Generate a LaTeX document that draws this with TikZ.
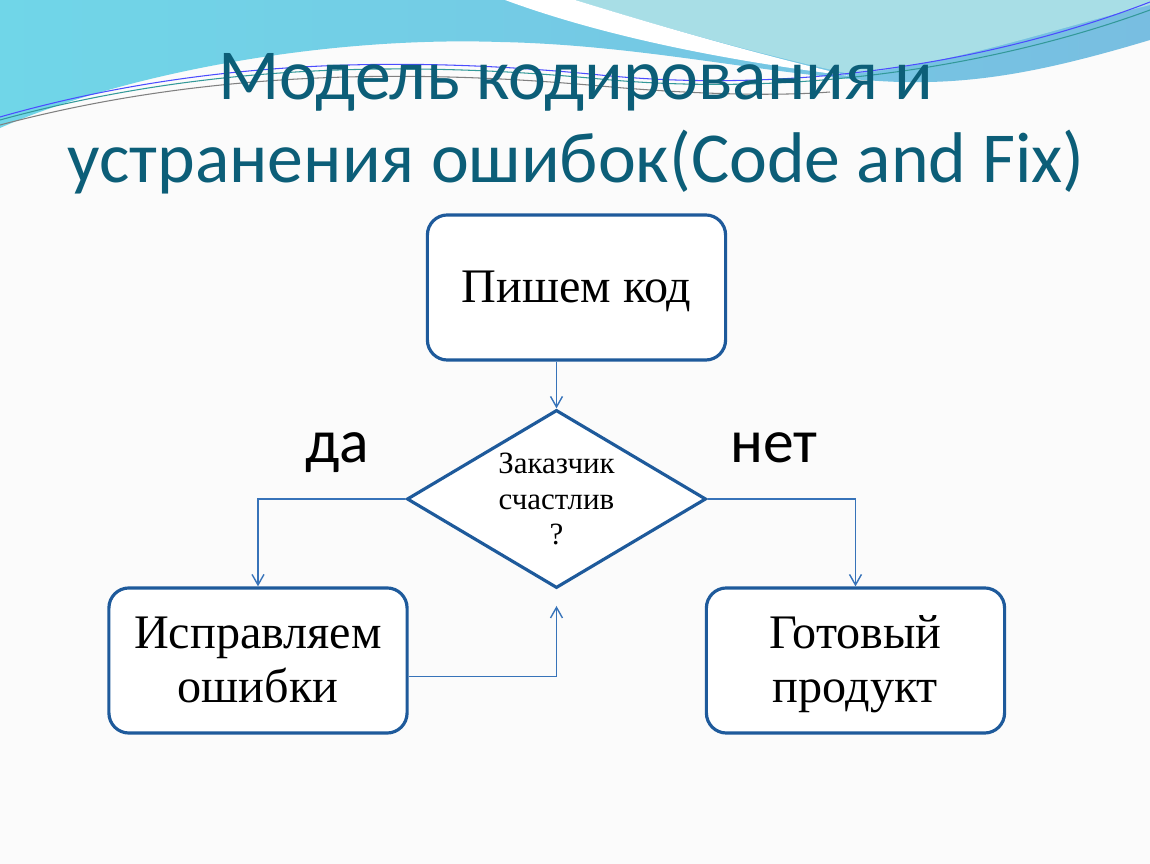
\documentclass[tikz,border=0pt]{standalone}
\usepackage{fontspec}
\setmainfont{Liberation Serif}
\newfontfamily\calibri{Carlito}
\usetikzlibrary{shapes.geometric, arrows.meta}
\definecolor{titleblue}{RGB}{12,94,120}
\definecolor{boxblue}{RGB}{30,90,155}
\definecolor{lineblue}{RGB}{55,115,185}
\definecolor{skyleft}{RGB}{112,214,232}
\definecolor{skyright}{RGB}{120,190,225}
\definecolor{skylight}{RGB}{168,222,230}
\definecolor{paper}{RGB}{251,251,251}
\newcommand{\linestrut}{\rule[-3pt]{0pt}{14.5pt}}

\begin{document}
\begin{tikzpicture}[x=0.01cm, y=-0.01cm]
\tikzstyle{block}=[draw=boxblue, line width=0.9pt, fill=white, rounded corners=0.2cm, minimum width=2.98cm, minimum height=1.45cm, align=center, font=\fontsize{13.7}{15.6}\selectfont]
\tikzstyle{decision}=[draw=boxblue, line width=0.9pt, fill=white, diamond, aspect=1.68, inner sep=0pt, minimum width=2.99cm, minimum height=1.78cm, align=center, font=\fontsize{8.8}{10}\selectfont]
\tikzstyle{link}=[draw=lineblue, line width=0.4pt, ->, >={Straight Barb[length=3pt, width=3.4pt]}]
\tikzstyle{answer}=[font=\calibri\fontsize{17.5}{20}\selectfont, anchor=base]

% background
\useasboundingbox (0,0) rectangle (1150,864);
\fill[paper] (0,0) rectangle (1150,864);
\shade[left color=skyleft, right color=skyright] (0,0) -- (1150,0) -- (1150,40) .. controls (1050,70) and (980,84) .. (900,82) .. controls (780,78) and (650,45) .. (500,42) .. controls (320,36) and (120,75) .. (0,128) -- cycle;
\fill[skylight] (575,0) .. controls (640,20) and (740,50) .. (850,74) .. controls (950,65) and (1050,30) .. (1150,5) -- (1150,0) -- cycle;
\fill[white] (505,0) .. controls (600,35) and (720,60) .. (850,76) .. controls (740,50) and (640,20) .. (575,0) -- cycle;
\draw[blue!70, line width=0.3pt] (0,117) .. controls (200,60) and (400,55) .. (600,75) .. controls (800,95) and (1000,60) .. (1150,2);
\draw[teal!80, line width=0.3pt] (0,120) .. controls (200,65) and (400,60) .. (600,79) .. controls (800,98) and (1000,65) .. (1150,10);
\draw[gray, line width=0.3pt] (0,125) .. controls (200,72) and (400,68) .. (600,86) .. controls (700,95) and (780,96) .. (830,92);

% title
\node[text=titleblue, font=\calibri\fontsize{20.4}{23.6}\selectfont, align=center](title) at (576,124) {Модель кодирования и\\устранения ошибок(Code and Fix)};

% flow
\node[block](code) at (576.5,287.5) {\linestrut Пишем код};
\node[decision](happy) at (556.5,499) {Заказчик\\счастлив\\?};
\node[block](fix) at (258,660.5) {\linestrut Исправляем\\\linestrut ошибки};
\node[block](done) at (855.5,660.5) {\linestrut Готовый\\\linestrut продукт};
\coordinate(back) at (556.5,606);

\node[answer](yes) at (337,463) {да};
\node[answer](no) at (774,463) {нет};

\path[link] (code.south -| happy.north) -- (happy.north);
\path[link] (happy.west) -| (fix.north);
\path[link] (happy.east) -| (done.north);
\path[link] ([yshift=-0.16cm]fix.east) -| (back);

\end{tikzpicture}
\end{document}
